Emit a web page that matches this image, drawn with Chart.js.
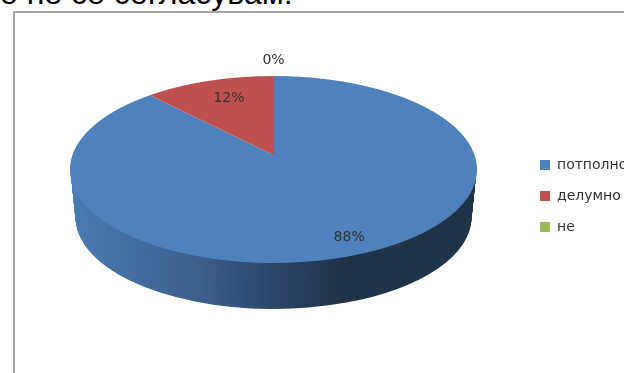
<!DOCTYPE html>
<html>
<head>
<meta charset="utf-8">
<script src="https://cdn.jsdelivr.net/npm/chart.js@4"></script>
<style>
  html, body { margin:0; padding:0; background:#fff; overflow:hidden; }
  #page { position:relative; width:624px; height:373px; overflow:hidden; }
  #heading { position:absolute; left:0; top:-23px; font:32px/32px "Liberation Sans", Arial, sans-serif; color:#000; white-space:nowrap; }
  #frame { position:absolute; left:13px; top:11px; width:640px; height:400px; border-left:2px solid #a6a6a6; border-top:2px solid #a6a6a6; }
  canvas { position:absolute; left:0; top:0; }
</style>
</head>
<body>
<div id="page">
  <div id="heading">о не се согласувам:</div>
  <div id="frame"></div>
  <canvas id="pie" width="624" height="373"></canvas>
</div>
<script>
const categories = ['потполно', 'делумно', 'не'];
const shares = [88, 12, 0];
const sliceColors = ['#4f81bd', '#c0504d', '#9bbb59'];

// how far out along its slice each % label sits, plus a small sideways nudge
const labelReach = [0.85, 0.74, 1.24];
const labelNudge = [4, 5, 0];

// top face of the disc: a circle seen in perspective
const cx = 273.5, pa = 67.2, pb = 155, pc = -0.155, pr = 201;
// rim: depth in px and how much the lower edge shrinks
const rimDepth = 48, rimShrinkX = 5, rimShrinkY = 2, topCy = 169.5, topRx = 203, topRy = 93.5;

function project(u, v) {
  const w = 1 + pc * v;
  return { x: cx + pr * u / w, y: (pa * v + pb) / w };
}

function drawRim(chart) {
  const ctx = chart.ctx, arc = chart.getDatasetMeta(0).data[0];
  const g = ctx.createLinearGradient(arc.x - arc.outerRadius, 0, arc.x + arc.outerRadius, 0);
  g.addColorStop(0, '#4a7cb3');
  g.addColorStop(0.19, '#41699a');
  g.addColorStop(0.32, '#3b5e8a');
  g.addColorStop(0.5, '#2b4669');
  g.addColorStop(0.67, '#1f3349');
  g.addColorStop(1, '#1f3349');
  const opts = Object.create(arc.options, { backgroundColor: { value: g } });
  const shaded = Object.create(arc, { options: { value: opts } });
  for (let d = rimDepth; d > 0; d--) {
    const t = d / rimDepth;
    const sx = (topRx - rimShrinkX * t) / arc.outerRadius;
    const sy = (topRy - rimShrinkY * t) / arc.outerRadius;
    ctx.save();
    ctx.setTransform(sx, 0, 0, sy, cx - sx * arc.x, topCy + d - sy * arc.y);
    shaded.draw(ctx);
    ctx.restore();
  }
}

function drawTop(chart) {
  const ctx = chart.ctx, arcs = chart.getDatasetMeta(0).data;
  const x0 = arcs[0].x, y0 = arcs[0].y, rs = arcs[0].outerRadius;
  // one pixel row at a time, each row with its own scale
  for (let row = 70; row < 270; row++) {
    const ym = row + 0.5;
    const v = (ym - pb) / (pa - pc * ym);
    if (Math.abs(v) > 1.03) continue;
    const w = 1 + pc * v;
    const sx = pr / w / rs;
    const sy = (pa - pb * pc) / (w * w) / rs;
    ctx.save();
    ctx.beginPath();
    ctx.rect(0, row, chart.width, 1);
    ctx.clip();
    ctx.setTransform(sx, 0, 0, sy, cx - sx * x0, ym - sy * (y0 + v * rs));
    arcs.forEach(a => a.draw(ctx));
    ctx.restore();
  }
}

function drawLabels(chart) {
  const ctx = chart.ctx, arcs = chart.getDatasetMeta(0).data;
  ctx.save();
  ctx.font = '14px "DejaVu Sans"';
  ctx.fillStyle = '#333';
  ctx.textAlign = 'center';
  ctx.textBaseline = 'middle';
  arcs.forEach((a, i) => {
    const mid = (a.startAngle + a.endAngle) / 2;
    const p = project(Math.cos(mid) * labelReach[i], Math.sin(mid) * labelReach[i]);
    ctx.fillText(shares[i] + '%', p.x + labelNudge[i], p.y);
  });
  ctx.restore();
}

const disc3d = {
  id: 'disc3d',
  afterLayout(chart) {
    // legend hangs over the right edge of the picture, as in the original
    chart.legend.left = 540 - chart.legend.options.labels.padding;
  },
  beforeDatasetsDraw(chart) {
    drawRim(chart);
    drawTop(chart);
    drawLabels(chart);
    return false;
  }
};

new Chart(document.getElementById('pie'), {
  type: 'pie',
  data: {
    labels: categories,
    datasets: [{ data: shares, backgroundColor: sliceColors, borderWidth: 0 }]
  },
  options: {
    responsive: false,
    animation: false,
    layout: { padding: { top: 19 } },
    plugins: {
      tooltip: { enabled: false },
      legend: {
        position: 'right',
        labels: {
          boxWidth: 10,
          boxHeight: 10,
          padding: 17,
          color: '#333',
          font: { family: '"DejaVu Sans"', size: 14 }
        }
      }
    }
  },
  plugins: [disc3d]
});
</script>
</body>
</html>
